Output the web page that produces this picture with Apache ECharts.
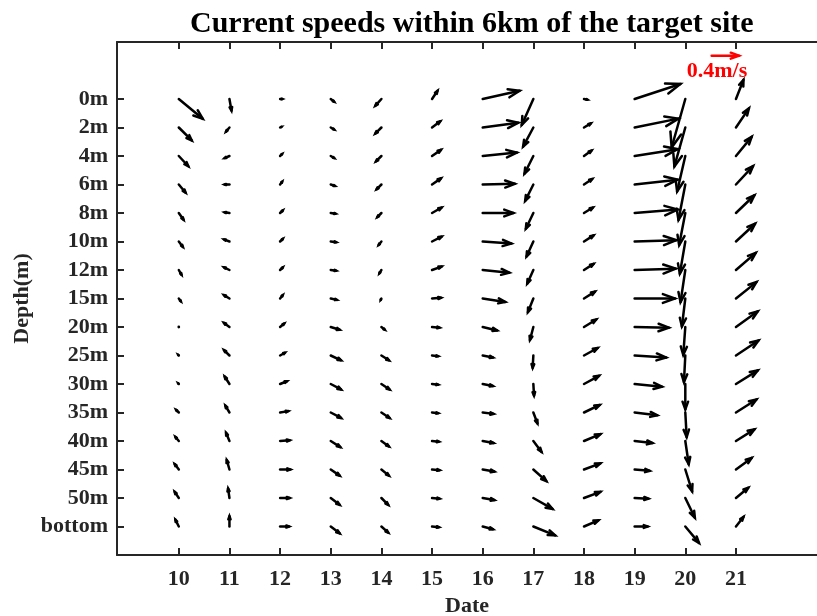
<!DOCTYPE html>
<html>
<head>
    <meta charset="utf-8">
    <title>Current speeds</title>
    <script src="https://cdn.jsdelivr.net/npm/echarts@6/dist/echarts.min.js"></script>
    <style>
        html, body { margin: 0; padding: 0; background: #fff; }
    </style>
</head>
<body>
<div id="main" style="width: 817px;height:616px;"></div>
<script type="text/javascript">
    // dates (day of month) and depth levels
    var DATES = [10, 11, 12, 13, 14, 15, 16, 17, 18, 19, 20, 21];
    var DEPTHS = ['0m', '2m', '4m', '6m', '8m', '10m', '12m', '15m', '20m', '25m',
                  '30m', '35m', '40m', '45m', '50m', 'bottom'];

    // eastward speed (cm/s), one row per date, top -> bottom depth
    var U = [
        [35, 19, 14, 10, 7, 6, 4, 3, 0, -1, -1, -4, -5, -6, -6, -5],          // 10
        [3, -5, -7, -7, -7, -8, -8, -8, -8, -8, -7, -6, -5, -4, -2, 0],       // 11
        [3, 2, 3, 3, 4, 4, 4, 4, 6, 7, 10, 12, 14, 15, 14, 13],               // 12
        [5, 5, 5, 6, 7, 8, 8, 9, 13, 15, 15, 15, 14, 13, 13, 13],             // 13
        [-9, -9, -8, -7, -6, -4, -3, -1, 5, 11, 12, 12, 11, 11, 10, 10],      // 14
        [8, 12, 13, 13, 14, 14, 14, 13, 11, 9, 9, 9, 10, 11, 11, 10],         // 15
        [54, 52, 50, 47, 45, 42, 39, 33, 21, 15, 15, 16, 16, 17, 17, 15],     // 16
        [-17, -15, -13, -12, -11, -10, -9, -8, -5, -1, 1, 6, 12, 19, 28, 32], // 17
        [5, 10, 11, 12, 13, 14, 14, 16, 18, 20, 22, 23, 24, 24, 24, 21],      // 18
        [67, 64, 63, 63, 63, 61, 60, 59, 50, 46, 40, 33, 26, 22, 20, 19],     // 19
        [-20, -16, -12, -10, -9, -8, -7, -5, -3, -2, 0, 2, 5, 10, 14, 20],    // 20
        [11, 19, 23, 25, 27, 28, 29, 30, 32, 33, 32, 30, 27, 23, 18, 11]      // 21
    ];
    // northward speed (cm/s)
    var V = [
        [-29, -19, -15, -12, -10, -8, -7, -4, -1, 1, 1, 4, 6, 8, 9, 10],
        [-17, -6, -3, 0, 1, 3, 4, 5, 6, 8, 11, 10, 12, 14, 14, 15],
        [0, 1, 3, 4, 4, 4, 4, 5, 5, 4, 4, 2, 1, 0, 0, 0],
        [-4, -3, -3, -2, -1, -1, -1, -2, -4, -7, -8, -8, -9, -9, -10, -10],
        [-10, -9, -8, -7, -6, -5, -5, -2, -4, -7, -8, -8, -8, -9, -10, -9],
        [12, 9, 9, 9, 8, 7, 5, 1, -1, -1, -1, -1, -1, -1, -1, -1],
        [12, 7, 5, 1, 0, -3, -4, -5, -5, -3, -3, -2, -3, -3, -3, -4],
        [-38, -28, -26, -24, -23, -22, -20, -20, -19, -18, -17, -16, -16, -17, -16, -13],
        [-1, 6, 8, 8, 8, 9, 9, 10, 11, 11, 12, 11, 10, 9, 9, 9],
        [22, 13, 10, 7, 5, 2, 2, 0, -1, -3, -4, -4, -3, -2, -1, 0],
        [-71, -57, -52, -52, -47, -47, -47, -41, -41, -39, -37, -36, -34, -32, -29, -24],
        [28, 28, 28, 27, 26, 26, 25, 24, 23, 22, 20, 19, 17, 17, 15, 14]
    ];

    // reference arrow: 0.4 m/s
    var REF = [[20.52, -1.52, 40, 0]];

    var PX_PER_CMS = 0.683;   // arrow length in pixels per cm/s
    var FONT = '"Liberation Serif", "Times New Roman", serif';
    var AXIS_COLOR = '#262626';

    var arrows = [];
    for (var i = 0; i < DATES.length; i++) {
        for (var j = 0; j < DEPTHS.length; j++) {
            arrows.push([DATES[i], j, U[i][j], V[i][j]]);
        }
    }

    function renderArrow(params, api) {
        var x = api.value(0), y = api.value(1), u = api.value(2), v = api.value(3);
        var unit = api.size([1, 1]);
        var p0 = api.coord([x, y]);
        var p1 = api.coord([x + u * PX_PER_CMS / unit[0], y - v * PX_PER_CMS / unit[1]]);
        var color = api.visual('color');
        var dx = p1[0] - p0[0], dy = p1[1] - p0[1];
        var len = Math.sqrt(dx * dx + dy * dy);
        var style = {stroke: color, lineWidth: 2.5, lineCap: 'round', lineJoin: 'miter', fill: null};
        if (len < 0.8) {
            return {type: 'circle', shape: {cx: p0[0], cy: p0[1], r: 1.4}, style: {fill: color}};
        }
        var ux = dx / len, uy = dy / len;
        var hl = 0.3 * len, hw = 0.11 * len;
        var bx = p1[0] - ux * hl, by = p1[1] - uy * hl;
        return {
            type: 'group',
            children: [
                {type: 'line', shape: {x1: p0[0], y1: p0[1], x2: p1[0], y2: p1[1]}, style: style},
                {type: 'polyline', shape: {points: [
                    [bx - uy * hw, by + ux * hw], [p1[0], p1[1]], [bx + uy * hw, by - ux * hw]
                ]}, style: style}
            ]
        };
    }

    var myChart = echarts.init(document.getElementById('main'));
    var ticksX = DATES.slice();
    var ticksY = DEPTHS.map(function (d, k) { return k; });

    var option = {
        animation: false,
        backgroundColor: '#fff',
        title: {
            text: 'Current speeds within 6km of the target site',
            left: 185,
            top: 4,
            textStyle: {fontFamily: FONT, fontWeight: 'bold', fontSize: 30, color: '#000'}
        },
        grid: {left: 117, top: 42, width: 700, height: 513, outerBoundsMode: 'none'},
        xAxis: [{
            type: 'value',
            position: 'bottom',
            min: 8.78,
            max: 22.6,
            name: 'Date',
            nameLocation: 'middle',
            nameGap: 40,
            nameMoveOverlap: false,
            nameTextStyle: {fontFamily: FONT, fontWeight: 'bold', fontSize: 22, color: AXIS_COLOR},
            axisLine: {onZero: false, lineStyle: {color: AXIS_COLOR, width: 2}},
            axisTick: {inside: true, length: 7, lineStyle: {width: 2}, customValues: ticksX},
            axisLabel: {customValues: ticksX, margin: 13, fontFamily: FONT, fontWeight: 'bold',
                        fontSize: 22, color: AXIS_COLOR},
            splitLine: {show: false}
        }, {
            type: 'value',
            position: 'top',
            min: 8.78,
            max: 22.6,
            axisLine: {onZero: false, lineStyle: {color: AXIS_COLOR, width: 2}},
            axisTick: {inside: true, length: 7, lineStyle: {width: 2}, customValues: ticksX},
            axisLabel: {show: false},
            splitLine: {show: false}
        }],
        yAxis: {
            type: 'value',
            inverse: true,
            min: -2,
            max: 16,
            name: 'Depth(m)',
            nameLocation: 'middle',
            nameGap: 84,
            nameMoveOverlap: false,
            nameTextStyle: {fontFamily: FONT, fontWeight: 'bold', fontSize: 22, color: AXIS_COLOR},
            axisLine: {onZero: false, lineStyle: {color: AXIS_COLOR, width: 2}},
            axisTick: {inside: true, length: 7, lineStyle: {width: 2}, customValues: ticksY},
            axisLabel: {
                customValues: ticksY, margin: 9, fontFamily: FONT, fontWeight: 'bold',
                fontSize: 22, color: AXIS_COLOR,
                formatter: function (val) { return DEPTHS[Math.round(val)] || ''; }
            },
            splitLine: {show: false}
        },
        graphic: [{
            type: 'text',
            x: 717,
            y: 71,
            style: {text: '0.4m/s', fill: '#ff0000', font: 'bold 22px ' + FONT,
                    textAlign: 'center', textVerticalAlign: 'middle'}
        }],
        series: [{
            type: 'custom',
            renderItem: renderArrow,
            itemStyle: {color: '#000'},
            clip: false,
            data: arrows
        }, {
            type: 'custom',
            renderItem: renderArrow,
            itemStyle: {color: '#ff0000'},
            clip: false,
            data: REF
        }]
    };
    myChart.setOption(option);
</script>
</body>
</html>
